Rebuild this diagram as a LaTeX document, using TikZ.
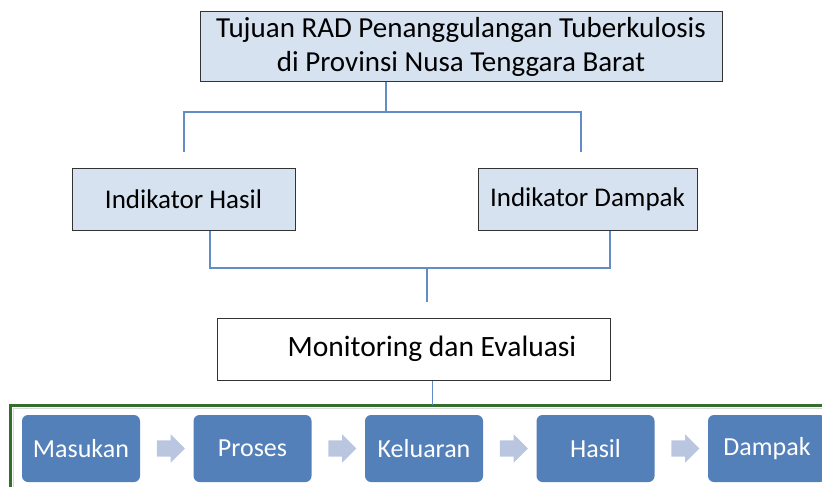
\documentclass[tikz,border=0pt]{standalone}
\usepackage{fontspec}
\setmainfont{Carlito}
\usetikzlibrary{shapes.arrows,calc}
\definecolor{lightbox}{RGB}{214,226,240}
\definecolor{linkblue}{RGB}{98,140,198}
\definecolor{stepblue}{RGB}{84,128,185}
\definecolor{steparrow}{RGB}{186,198,224}
\definecolor{framegreen}{RGB}{52,110,45}
\tikzset{
  goalbox/.style={draw=black!80, fill=lightbox, line width=1pt, inner sep=0pt, align=center},
  link/.style={draw=linkblue, line width=1.5pt},
  stepbox/.style={fill=stepblue, rounded corners=6pt, minimum width=118pt, minimum height=67pt, text=white, font=\fontsize{26}{30}\selectfont},
  steparr/.style={single arrow, fill=steparrow, single arrow head extend=6pt, inner xsep=0pt, inner ysep=8pt, minimum height=28pt}
}
\begin{document}
\begin{tikzpicture}[x=1pt,y=-1pt]
\useasboundingbox (0,0) rectangle (822,487);
\node[goalbox, minimum width=522pt, minimum height=70pt, font=\fontsize{29}{34}\selectfont] (tujuan) at (461,47) {Tujuan RAD Penanggulangan Tuberkulosis\\di Provinsi Nusa Tenggara Barat};
\node[goalbox, minimum width=223pt, minimum height=62pt, font=\fontsize{27}{31}\selectfont] (hasil) at (183.5,199) {Indikator Hasil};
\node[goalbox, minimum width=219pt, minimum height=62pt, font=\fontsize{27}{31}\selectfont] (dampak) at (587.5,199) {Indikator Dampak};
\node[draw=black!80, line width=1pt, minimum width=393pt, minimum height=62pt, font=\fontsize{29.5}{34}\selectfont] (monev) at (413.5,349) {\hspace*{37pt}Monitoring dan Evaluasi};
% top branches
\coordinate (tjoin) at (386,112);
\coordinate (lend) at (184,152);
\coordinate (rend) at (581,152);
\draw[link] (tujuan.south -| tjoin) -- (tjoin) -| (lend);
\draw[link] (tjoin) -| (rend);
% bottom branches
\coordinate (bjoin) at (427,268);
\coordinate (bend) at (427,302);
\draw[link] (hasil.south -| 210,0) |- (bjoin) -- (bend);
\draw[link] (dampak.south -| 610,0) |- (bjoin);
% frame
\draw[framegreen, line width=3pt] (10,405) rectangle (840,500);
\draw[black!15, line width=0.6pt] (13.5,408.5) rectangle (837,497);
\coordinate (frametop) at (432,405);
\draw[link, line width=1pt] (monev.south -| frametop) -- (frametop);
% steps
\foreach \name [count=\i] in {Masukan,Proses,Keluaran,Hasil,Dampak}
  \node[stepbox] (step\i) at ({81+171.5*(\i-1)},448.5) {\name};
\foreach \i [evaluate=\i as \j using int(\i+1)] in {1,...,4}
  \node[steparr] (arr\i) at ($(step\i)!0.5!(step\j)$) {};
\end{tikzpicture}
\end{document}
